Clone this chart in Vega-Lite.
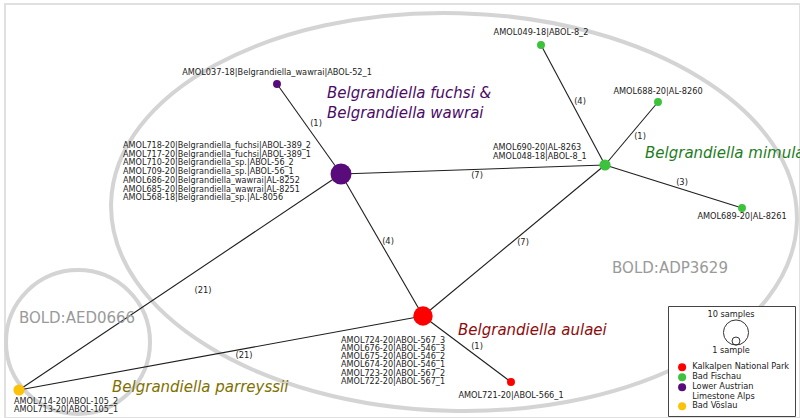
{
  "$schema": "https://vega.github.io/schema/vega-lite/v6.json",
  "width": 795,
  "height": 414,
  "autosize": "none",
  "padding": {"left": 5, "top": 4, "right": 0, "bottom": 0},
  "background": "white",
  "config": {"view": {"stroke": "#e0e0e0", "strokeWidth": 2}, "font": "DejaVu Sans"},
  "datasets": {
    "nodes": [
      {"id": "P1", "x": 341, "y": 174, "n": 7, "region": "Lower Austrian Limestone Alps"},
      {"id": "P2", "x": 277, "y": 84, "n": 1, "region": "Lower Austrian Limestone Alps"},
      {"id": "G1", "x": 605, "y": 165, "n": 2, "region": "Bad Fischau"},
      {"id": "G2", "x": 541, "y": 45, "n": 1, "region": "Bad Fischau"},
      {"id": "G3", "x": 658, "y": 102, "n": 1, "region": "Bad Fischau"},
      {"id": "G4", "x": 742, "y": 208, "n": 1, "region": "Bad Fischau"},
      {"id": "R1", "x": 423, "y": 316, "n": 6, "region": "Kalkalpen National Park"},
      {"id": "R2", "x": 511, "y": 382, "n": 1, "region": "Kalkalpen National Park"},
      {"id": "Y1", "x": 19, "y": 390, "n": 2, "region": "Bad Vöslau"}
    ],
    "edges": [
      {"s": "P2", "t": "P1", "m": 1, "lx": 316, "ly": 124},
      {"s": "P1", "t": "G1", "m": 7, "lx": 477, "ly": 176},
      {"s": "P1", "t": "R1", "m": 4, "lx": 388, "ly": 242},
      {"s": "G1", "t": "G2", "m": 4, "lx": 580, "ly": 102},
      {"s": "G1", "t": "G3", "m": 1, "lx": 640, "ly": 137},
      {"s": "G1", "t": "G4", "m": 3, "lx": 682, "ly": 183},
      {"s": "G1", "t": "R1", "m": 7, "lx": 523, "ly": 243},
      {"s": "R1", "t": "R2", "m": 1, "lx": 477, "ly": 347},
      {"s": "Y1", "t": "P1", "m": 21, "lx": 203, "ly": 291},
      {"s": "Y1", "t": "R1", "m": 21, "lx": 244, "ly": 356}
    ],
    "labels": [
      {"text": "AMOL037-18|Belgrandiella_wawrai|ABOL-52_1", "x": 277, "y": 73, "side": "c"},
      {"text": "AMOL049-18|ABOL-8_2", "x": 541, "y": 33, "side": "c"},
      {"text": "AMOL688-20|AL-8260", "x": 658, "y": 92, "side": "c"},
      {"text": "AMOL689-20|AL-8261", "x": 742, "y": 217, "side": "c"},
      {"text": "AMOL721-20|ABOL-566_1", "x": 511, "y": 396, "side": "c"},
      {"text": "AMOL718-20|Belgrandiella_fuchsi|ABOL-389_2", "x": 123, "y": 146, "side": "l"},
      {"text": "AMOL717-20|Belgrandiella_fuchsi|ABOL-389_1", "x": 123, "y": 154.7, "side": "l"},
      {"text": "AMOL710-20|Belgrandiella_sp.|ABOL-56_2", "x": 123, "y": 163.4, "side": "l"},
      {"text": "AMOL709-20|Belgrandiella_sp.|ABOL-56_1", "x": 123, "y": 172.1, "side": "l"},
      {"text": "AMOL686-20|Belgrandiella_wawrai|AL-8252", "x": 123, "y": 180.8, "side": "l"},
      {"text": "AMOL685-20|Belgrandiella_wawrai|AL-8251", "x": 123, "y": 189.5, "side": "l"},
      {"text": "AMOL568-18|Belgrandiella_sp.|AL-8056", "x": 123, "y": 198.2, "side": "l"},
      {"text": "AMOL690-20|AL-8263", "x": 493, "y": 148, "side": "l"},
      {"text": "AMOL048-18|ABOL-8_1", "x": 493, "y": 157, "side": "l"},
      {"text": "AMOL724-20|ABOL-567_3", "x": 341, "y": 340.5, "side": "l"},
      {"text": "AMOL676-20|ABOL-546_3", "x": 341, "y": 348.8, "side": "l"},
      {"text": "AMOL675-20|ABOL-546_2", "x": 341, "y": 357.1, "side": "l"},
      {"text": "AMOL674-20|ABOL-546_1", "x": 341, "y": 365.4, "side": "l"},
      {"text": "AMOL723-20|ABOL-567_2", "x": 341, "y": 373.7, "side": "l"},
      {"text": "AMOL722-20|ABOL-567_1", "x": 341, "y": 382, "side": "l"},
      {"text": "AMOL714-20|ABOL-105_2", "x": 14, "y": 401.5, "side": "l"},
      {"text": "AMOL713-20|ABOL-105_1", "x": 14, "y": 410, "side": "l"}
    ],
    "species": [
      {"text": "Belgrandiella fuchsi &", "x": 327, "y": 93, "region": "Lower Austrian Limestone Alps"},
      {"text": "Belgrandiella wawrai", "x": 327, "y": 113, "region": "Lower Austrian Limestone Alps"},
      {"text": "Belgrandiella mimulae", "x": 645, "y": 153, "region": "Bad Fischau"},
      {"text": "Belgrandiella aulaei", "x": 458, "y": 330, "region": "Kalkalpen National Park"},
      {"text": "Belgrandiella parreyssii", "x": 112, "y": 387, "region": "Bad Vöslau"}
    ],
    "bins": [
      {"text": "BOLD:ADP3629", "x": 670, "y": 268, "cx": 454, "cy": 212},
      {"text": "BOLD:AED0666", "x": 77, "y": 318, "cx": 78, "cy": 342}
    ],
    "panel": [
      {"x": 668, "y": 306, "x2": 797, "y2": 416}
    ],
    "sizekey": [
      {"n": 10, "x": 736, "y": 332.5},
      {"n": 1, "x": 736, "y": 341}
    ]
  },
  "layer": [
    {
      "data": {"name": "bins"},
      "transform": [{"filter": "datum.text == 'BOLD:ADP3629'"}],
      "mark": {"type": "point", "filled": false, "opacity": 1, "stroke": "#d4d4d4", "strokeWidth": 4, "size": 470596, "angle": 1.5,
        "shape": "M -1 0 C -1 -0.3203 -0.5523 -0.58 0 -0.58 C 0.5523 -0.58 1 -0.3203 1 0 C 1 0.3203 0.5523 0.58 0 0.58 C -0.5523 0.58 -1 0.3203 -1 0 Z"},
      "encoding": {
        "x": {"field": "cx", "type": "quantitative", "scale": {"domain": [5, 800], "nice": false, "zero": false}, "axis": null},
        "y": {"field": "cy", "type": "quantitative", "scale": {"domain": [4, 418], "nice": false, "zero": false, "reverse": true}, "axis": null}
      }
    },
    {
      "data": {"name": "bins"},
      "transform": [{"filter": "datum.text == 'BOLD:AED0666'"}],
      "mark": {"type": "point", "filled": false, "opacity": 1, "stroke": "#d4d4d4", "strokeWidth": 4, "size": 20736, "shape": "circle"},
      "encoding": {
        "x": {"field": "cx", "type": "quantitative", "scale": {"domain": [5, 800], "nice": false, "zero": false}, "axis": null},
        "y": {"field": "cy", "type": "quantitative", "scale": {"domain": [4, 418], "nice": false, "zero": false, "reverse": true}, "axis": null}
      }
    },
    {
      "data": {"name": "panel"},
      "mark": {"type": "rect", "color": "white", "opacity": 1},
      "encoding": {
        "x": {"field": "x", "type": "quantitative", "scale": {"domain": [5, 800], "nice": false, "zero": false}, "axis": null},
        "y": {"field": "y", "type": "quantitative", "scale": {"domain": [4, 418], "nice": false, "zero": false, "reverse": true}, "axis": null},
        "x2": {"field": "x2"},
        "y2": {"field": "y2"}
      }
    },
    {
      "data": {"name": "edges"},
      "transform": [
        {"lookup": "s", "from": {"data": {"name": "nodes"}, "key": "id", "fields": ["x", "y"]}, "as": ["sx", "sy"]},
        {"lookup": "t", "from": {"data": {"name": "nodes"}, "key": "id", "fields": ["x", "y"]}, "as": ["tx", "ty"]}
      ],
      "mark": {"type": "rule", "color": "#1e1e1e", "strokeWidth": 1.1},
      "encoding": {
        "x": {"field": "sx", "type": "quantitative", "scale": {"domain": [5, 800], "nice": false, "zero": false}, "axis": null},
        "y": {"field": "sy", "type": "quantitative", "scale": {"domain": [4, 418], "nice": false, "zero": false, "reverse": true}, "axis": null},
        "x2": {"field": "tx"},
        "y2": {"field": "ty"}
      }
    },
    {
      "data": {"name": "edges"},
      "transform": [{"calculate": "'(' + datum.m + ')'", "as": "lab"}],
      "mark": {"type": "text", "fontSize": 8.3, "color": "#222", "baseline": "middle", "align": "center"},
      "encoding": {
        "x": {"field": "lx", "type": "quantitative", "scale": {"domain": [5, 800], "nice": false, "zero": false}, "axis": null},
        "y": {"field": "ly", "type": "quantitative", "scale": {"domain": [4, 418], "nice": false, "zero": false, "reverse": true}, "axis": null},
        "text": {"field": "lab"}
      }
    },
    {
      "data": {"name": "nodes"},
      "mark": {"type": "point", "filled": true, "opacity": 1, "shape": "circle", "strokeWidth": 0},
      "encoding": {
        "x": {"field": "x", "type": "quantitative", "scale": {"domain": [5, 800], "nice": false, "zero": false}, "axis": null},
        "y": {"field": "y", "type": "quantitative", "scale": {"domain": [4, 418], "nice": false, "zero": false, "reverse": true}, "axis": null},
        "size": {"field": "n", "type": "quantitative", "scale": {"domain": [0, 10], "range": [0, 630], "zero": true}, "legend": null},
        "color": {
          "field": "region", "type": "nominal",
          "scale": {"domain": ["Kalkalpen National Park", "Bad Fischau", "Lower Austrian Limestone Alps", "Bad Vöslau"], "range": ["#ff0000", "#3cc23c", "#5a0b7b", "#fcc20a"]},
          "legend": {
            "orient": "none", "legendX": 663, "legendY": 302,
            "title": ["10 samples", "1 sample"],
            "titleFontSize": 8.2, "titleFontWeight": "normal", "titleColor": "#222", "titleAnchor": "middle", "titleAlign": "center", "titleLineHeight": 36, "titlePadding": 8,
            "labelFontSize": 8.2, "labelColor": "#222", "labelOffset": 6, "labelLimit": 200,
            "labelExpr": "datum.label == 'Lower Austrian Limestone Alps' ? ['Lower Austrian', 'Limestone Alps'] : datum.label",
            "symbolType": "circle", "symbolSize": 64, "symbolStrokeWidth": 0, "symbolOpacity": 1, "symbolOffset": 5,
            "strokeColor": "#444", "padding": 5, "rowPadding": 0
          }
        }
      }
    },
    {
      "data": {"name": "sizekey"},
      "mark": {"type": "point", "filled": false, "opacity": 1, "shape": "circle", "color": "#333", "strokeWidth": 1},
      "encoding": {
        "x": {"field": "x", "type": "quantitative", "scale": {"domain": [5, 800], "nice": false, "zero": false}, "axis": null},
        "y": {"field": "y", "type": "quantitative", "scale": {"domain": [4, 418], "nice": false, "zero": false, "reverse": true}, "axis": null},
        "size": {"field": "n", "type": "quantitative", "scale": {"domain": [0, 10], "range": [0, 630], "zero": true}, "legend": null}
      }
    },
    {
      "data": {"name": "labels"},
      "transform": [{"filter": "datum.side == 'c'"}],
      "mark": {"type": "text", "fontSize": 8.2, "color": "#222", "baseline": "middle", "align": "center"},
      "encoding": {
        "x": {"field": "x", "type": "quantitative", "scale": {"domain": [5, 800], "nice": false, "zero": false}, "axis": null},
        "y": {"field": "y", "type": "quantitative", "scale": {"domain": [4, 418], "nice": false, "zero": false, "reverse": true}, "axis": null},
        "text": {"field": "text"}
      }
    },
    {
      "data": {"name": "labels"},
      "transform": [{"filter": "datum.side == 'l'"}],
      "mark": {"type": "text", "fontSize": 8.1, "color": "#222", "baseline": "middle", "align": "left"},
      "encoding": {
        "x": {"field": "x", "type": "quantitative", "scale": {"domain": [5, 800], "nice": false, "zero": false}, "axis": null},
        "y": {"field": "y", "type": "quantitative", "scale": {"domain": [4, 418], "nice": false, "zero": false, "reverse": true}, "axis": null},
        "text": {"field": "text"}
      }
    },
    {
      "data": {"name": "species"},
      "mark": {"type": "text", "fontSize": 15, "fontStyle": "italic", "baseline": "middle", "align": "left"},
      "encoding": {
        "x": {"field": "x", "type": "quantitative", "scale": {"domain": [5, 800], "nice": false, "zero": false}, "axis": null},
        "y": {"field": "y", "type": "quantitative", "scale": {"domain": [4, 418], "nice": false, "zero": false, "reverse": true}, "axis": null},
        "text": {"field": "text"},
        "color": {
          "field": "region", "type": "nominal",
          "scale": {"domain": ["Kalkalpen National Park", "Bad Fischau", "Lower Austrian Limestone Alps", "Bad Vöslau"], "range": ["#8e0b0b", "#1d7d1d", "#4b0b66", "#7f7000"]},
          "legend": null
        }
      }
    },
    {
      "data": {"name": "bins"},
      "mark": {"type": "text", "fontSize": 15, "color": "#9a9a9a", "baseline": "middle", "align": "center"},
      "encoding": {
        "x": {"field": "x", "type": "quantitative", "scale": {"domain": [5, 800], "nice": false, "zero": false}, "axis": null},
        "y": {"field": "y", "type": "quantitative", "scale": {"domain": [4, 418], "nice": false, "zero": false, "reverse": true}, "axis": null},
        "text": {"field": "text"}
      }
    }
  ],
  "resolve": {"scale": {"color": "independent"}}
}
